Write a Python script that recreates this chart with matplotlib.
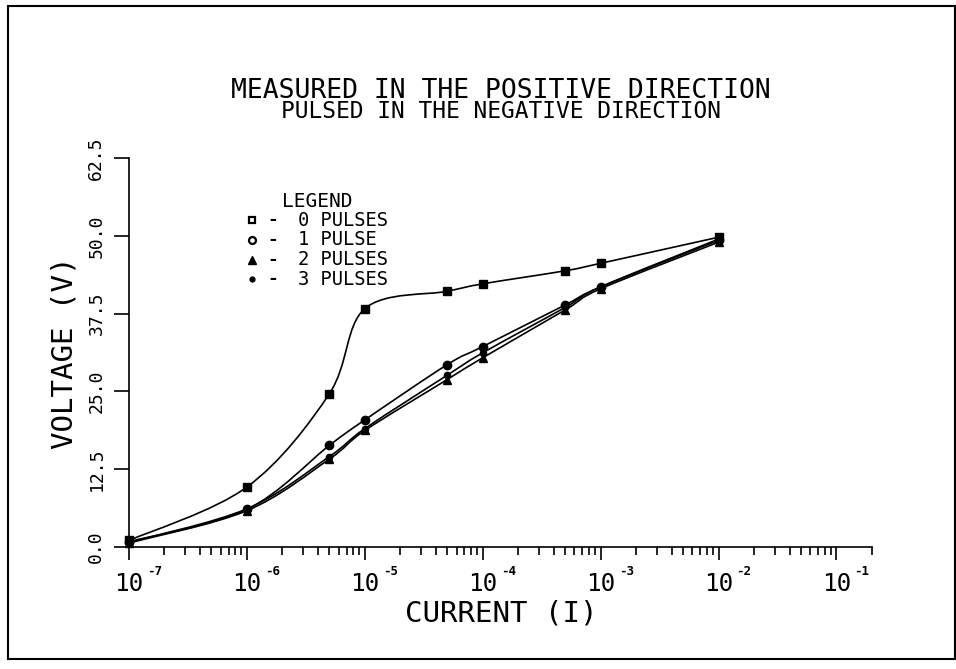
import numpy as np
import matplotlib
matplotlib.use("Agg")
import matplotlib.pyplot as plt
from matplotlib.path import Path
from matplotlib.patches import PathPatch, Rectangle
from matplotlib.ticker import LogLocator, NullFormatter, NullLocator

# measured points: current (A) vs voltage (V)
current = [1e-7, 1e-6, 5e-6, 1e-5, 5e-5, 1e-4, 5e-4, 1e-3, 1e-2]
volts_0_pulses = [1.0, 9.6, 24.6, 38.3, 41.1, 42.3, 44.4, 45.6, 49.8]
volts_1_pulse = [0.8, 6.0, 16.3, 20.4, 29.3, 32.2, 38.9, 41.8, 49.3]
volts_2_pulses = [0.6, 5.8, 14.1, 18.7, 26.9, 30.4, 38.1, 41.5, 49.0]
volts_3_pulses = [0.7, 6.1, 14.5, 19.0, 27.6, 31.2, 38.5, 41.8, 49.5]

series_labels = ["0 PULSES", "1 PULSE", "2 PULSES", "3 PULSES"]
series_markers = ["s", "o", "^", "."]

x_decades = [1e-7, 1e-6, 1e-5, 1e-4, 1e-3, 1e-2, 1e-1]
x_exponents = ["-7", "-6", "-5", "-4", "-3", "-2", "-1"]
y_ticks = [0.0, 12.5, 25.0, 37.5, 50.0, 62.5]
y_ticklabels = ["0.0", "12.5", "25.0", "37.5", "50.0", "62.5"]

plt.rcParams["font.family"] = ["DejaVu Sans Mono", "DejaVu Sans"]
plt.rcParams["text.color"] = "black"


def smooth_path(ax, xs, ys):
    # Catmull-Rom through the points, built as cubic Beziers in screen space
    pts = ax.transData.transform(np.column_stack([xs, ys]))
    n = len(pts)
    verts = [pts[0]]
    codes = [Path.MOVETO]
    for i in range(n - 1):
        p0 = pts[max(i - 1, 0)]
        p1 = pts[i]
        p2 = pts[i + 1]
        p3 = pts[min(i + 2, n - 1)]
        verts += [p1 + (p2 - p0) / 6.0, p2 - (p3 - p1) / 6.0, p2]
        codes += [Path.CURVE4] * 3
    verts = ax.transData.inverted().transform(np.array(verts))
    return Path(verts, codes)


fig = plt.figure(figsize=(9.56, 6.69), dpi=100)
ax = fig.add_axes([0.1349, 0.1828, 0.7772, 0.5806])

ax.set_xscale("log")
ax.set_xlim(1e-7, 2e-1)
ax.set_ylim(0, 62.5)

for side in ("top", "right"):
    ax.spines[side].set_visible(False)
for side in ("left", "bottom"):
    ax.spines[side].set_linewidth(1.2)

ax.set_xticks(x_decades, labels=["10"] * len(x_decades))
ax.xaxis.set_minor_locator(LogLocator(base=10, subs=np.arange(2, 10), numticks=30))
ax.xaxis.set_minor_formatter(NullFormatter())
ax.set_yticks(y_ticks, labels=y_ticklabels, rotation=90, va="center")
ax.yaxis.set_minor_locator(NullLocator())

ax.tick_params(axis="x", which="major", direction="out", length=9, width=1.2,
               pad=9, labelsize=17.5)
ax.tick_params(axis="x", which="minor", direction="out", length=6, width=1.2)
ax.tick_params(axis="y", direction="out", length=11, width=1.2, pad=6,
               labelsize=13)

# small exponents next to each "10"
for xv, ex in zip(x_decades, x_exponents):
    ax.annotate(ex, xy=(xv, 0), xycoords=("data", "axes fraction"),
                xytext=(13, -18), textcoords="offset points",
                ha="left", va="center", fontsize=9, fontweight="bold",
                annotation_clip=False)

series = [volts_0_pulses, volts_1_pulse, volts_2_pulses, volts_3_pulses]
for volts, mk in zip(series, series_markers):
    ax.add_patch(PathPatch(smooth_path(ax, current, volts), fill=False,
                           edgecolor="black", lw=1.2, clip_on=False))
    ax.plot(current, volts, ls="none", marker=mk, ms=6 if mk != "." else 9,
            color="black", clip_on=False)

ax.set_xlabel("CURRENT (I)", fontsize=21, va="center")
ax.xaxis.set_label_coords(0.5007, -0.1707)
ax.set_ylabel("VOLTAGE (V)", fontsize=21, va="center")
ax.yaxis.set_label_coords(-0.0861, 0.5)

# legend block
ax.text(0.253, 0.888, "LEGEND", transform=ax.transAxes, ha="center",
        va="center", fontsize=14)
for i, (lab, mk) in enumerate(zip(series_labels, series_markers)):
    yy = 0.841 - i * 0.0508
    if mk in ("s", "o"):
        ax.plot([0.165], [yy], marker=mk, ms=5, mfc="white", mec="black",
                mew=1.6, transform=ax.transAxes, clip_on=False)
    else:
        ax.plot([0.165], [yy], marker=mk, ms=6 if mk == "^" else 7,
                color="black", transform=ax.transAxes, clip_on=False)
    ax.text(0.193, yy, "-", transform=ax.transAxes, ha="center", va="center",
            fontsize=13, fontweight="bold")
    ax.text(0.2275, yy, lab, transform=ax.transAxes, ha="left", va="center",
            fontsize=13.5)

fig.text(0.524, 0.864, "MEASURED IN THE POSITIVE DIRECTION", ha="center",
         va="center", fontsize=19)
fig.text(0.524, 0.833, "PULSED IN THE NEGATIVE DIRECTION", ha="center",
         va="center", fontsize=16.5)

# outer frame
fig.patches.append(Rectangle((0.0084, 0.0150), 0.9906, 0.976,
                             transform=fig.transFigure, fill=False,
                             edgecolor="black", lw=1.5))

fig.savefig("out.png", dpi=100)
